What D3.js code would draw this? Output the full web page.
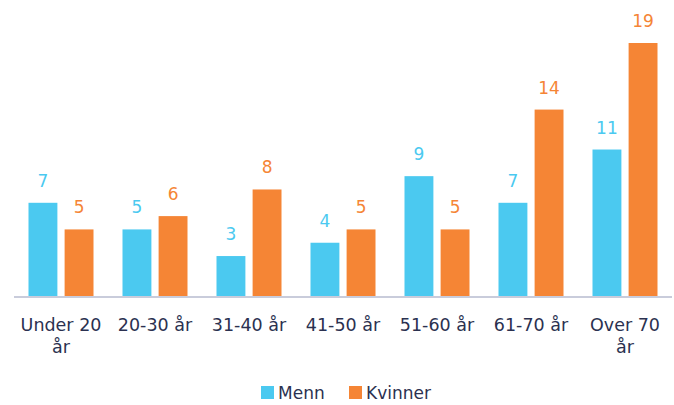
<!DOCTYPE html>
<html>
<head>
<meta charset="utf-8">
<script src="https://cdn.jsdelivr.net/npm/d3@7"></script>
<style>
  html, body { margin: 0; padding: 0; background: #fff; }
  svg { display: block; }
</style>
</head>
<body>
<svg id="chart" width="674" height="405"></svg>
<script>
const categories = ["Under 20 år", "20-30 år", "31-40 år", "41-50 år", "51-60 år", "61-70 år", "Over 70 år"];
const categoryLines = [["Under 20", "år"], ["20-30 år"], ["31-40 år"], ["41-50 år"], ["51-60 år"], ["61-70 år"], ["Over 70", "år"]];
const seriesNames = ["Menn", "Kvinner"];
const menn = [7, 5, 3, 4, 9, 7, 11];
const kvinner = [5, 6, 8, 5, 5, 14, 19];
const colors = ["#4BC9F0", "#F58535"];

const svg = d3.select("#chart");
const font = "'DejaVu Sans', sans-serif";
const left = 14, right = 672, baseline = 296;

const x0 = d3.scaleBand().domain(categories).range([left, right]).padding(0);
const x1 = d3.scaleBand().domain(seriesNames)
  .range([14.5, x0.bandwidth() - 14.5]).paddingInner(0.2).paddingOuter(0);
const y = d3.scaleLinear().domain([0, 19]).range([baseline, 43]);

const rows = categories.map((c, i) => ({ cat: c, values: [menn[i], kvinner[i]] }));

const groups = svg.append("g").selectAll("g").data(rows).join("g")
  .attr("transform", d => `translate(${x0(d.cat)},0)`);

groups.selectAll("rect")
  .data(d => d.values.map((v, j) => ({ name: seriesNames[j], v, j })))
  .join("rect")
  .attr("x", d => x1(d.name))
  .attr("y", d => y(d.v))
  .attr("width", x1.bandwidth())
  .attr("height", d => baseline - y(d.v))
  .attr("fill", d => colors[d.j]);

groups.selectAll("text.val")
  .data(d => d.values.map((v, j) => ({ name: seriesNames[j], v, j })))
  .join("text")
  .attr("class", "val")
  .attr("x", d => x1(d.name) + x1.bandwidth() / 2)
  .attr("y", d => y(d.v) - 16)
  .attr("text-anchor", "middle")
  .attr("font-family", font)
  .attr("font-size", 17)
  .attr("fill", d => colors[d.j])
  .text(d => d.v);

// category axis
svg.append("line")
  .attr("x1", left).attr("x2", right)
  .attr("y1", baseline + 1).attr("y2", baseline + 1)
  .attr("stroke", "#c9ccdb").attr("stroke-width", 2);

svg.append("g").selectAll("text").data(categories).join("text")
  .attr("x", d => x0(d) + x0.bandwidth() / 2)
  .attr("y", 331)
  .attr("text-anchor", "middle")
  .attr("font-family", font)
  .attr("font-size", 17.5)
  .attr("fill", "#2b3150")
  .each(function (d, i) {
    const t = d3.select(this);
    categoryLines[i].forEach((line, k) => {
      t.append("tspan")
        .attr("x", x0(d) + x0.bandwidth() / 2)
        .attr("dy", k === 0 ? 0 : 22)
        .text(line);
    });
  });

// legend
const legendItems = [{ name: "Menn", x: 261 }, { name: "Kvinner", x: 349 }];
const lg = svg.append("g").selectAll("g").data(legendItems).join("g")
  .attr("transform", d => `translate(${d.x},386)`);
lg.append("rect").attr("width", 13).attr("height", 13)
  .attr("fill", (d, i) => colors[i]);
lg.append("text").attr("x", 17).attr("y", 13)
  .attr("font-family", font).attr("font-size", 17)
  .attr("fill", "#2b3150").text(d => d.name);
</script>
</body>
</html>
